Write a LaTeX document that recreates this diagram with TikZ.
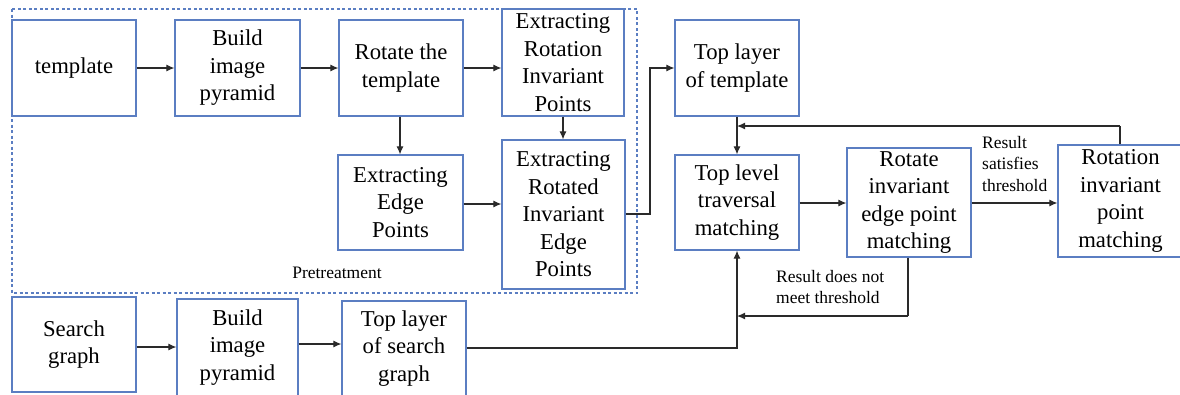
\documentclass[tikz,border=0pt]{standalone}
\usepackage{fontspec}
\setmainfont{Liberation Serif}
\usetikzlibrary{arrows.meta}
\definecolor{boxblue}{HTML}{5B7EC2}
\definecolor{linegray}{HTML}{2A2A2A}
\tikzset{
  blk/.style={draw=boxblue, line width=1.2pt, fill=white, align=center, inner sep=0pt,
    font=\fontsize{22.7}{27.5}\selectfont},
  arr/.style={draw=linegray, line width=1.1pt, -{Latex[length=8pt,width=7pt]}},
  ln/.style={draw=linegray, line width=1.1pt},
  lbl/.style={align=left, inner sep=0pt, font=\fontsize{17.5}{21.5}\selectfont},
}
\newcommand{\bx}[6]{\node[blk, minimum width=#4-#2, minimum height=#5-#3] (#1) at ({(#2+#4)/2},{(#3+#5)/2}) {#6};}
\begin{document}
\begin{tikzpicture}[x=1pt,y=-1pt]
\useasboundingbox (0,0) rectangle (1180,394);
% dashed pretreatment region
\draw[boxblue, line width=1.1pt, dash pattern=on 3pt off 2.5pt] (12,9) rectangle (637,293);
\node[lbl, anchor=center] (pre) at (337,273) {Pretreatment};
% boxes
\bx{tpl}{12}{20}{136}{116}{template}
\bx{bip}{175}{20}{300}{116}{Build\\image\\pyramid}
\bx{rot}{339}{20}{463}{116}{Rotate the\\template}
\bx{erip}{502}{9}{624}{116}{Extracting\\Rotation\\Invariant\\Points}
\bx{eep}{338}{155}{463}{250}{Extracting\\Edge\\Points}
\bx{erie}{502}{140}{625}{289}{Extracting\\Rotated\\Invariant\\Edge\\Points}
\bx{toptpl}{675}{20}{799}{116}{Top layer\\of template}
\bx{tlt}{675}{155}{799}{250}{Top level\\traversal\\matching}
\bx{riep}{847}{148}{971}{257}{Rotate\\invariant\\edge point\\matching}
\bx{ripm}{1058}{145}{1183}{257}{Rotation\\invariant\\point\\matching}
\bx{sg}{12}{297}{136}{392}{Search\\graph}
\bx{bip2}{177}{299}{298}{396}{Build\\image\\pyramid}
\bx{tls}{342}{301}{466}{396}{Top layer\\of search\\graph}
% coordinates
\coordinate (c1) at (650,214);
\coordinate (c2) at (650,68);
\coordinate (fb1) at (1120,126);
\coordinate (fb2) at (737,126);
\coordinate (nm1) at (908,316);
\coordinate (nm2) at (737,316);
\coordinate (s1) at (737,348);
% arrows
\draw[arr] (tpl.east |- 0,68) -- (bip.west |- 0,68);
\draw[arr] (bip.east |- 0,68) -- (rot.west |- 0,68);
\draw[arr] (rot.east |- 0,68) -- (erip.west |- 0,68);
\draw[arr] (rot.south -| 400,0) -- (eep.north -| 400,0);
\draw[arr] (erip.south -| 563,0) -- (erie.north -| 563,0);
\draw[arr] (eep.east |- 0,204) -- (erie.west |- 0,204);
\draw[arr] (erie.east |- c1) -- (c1) -- (c2) -- (toptpl.west |- c2);
\draw[arr] (toptpl.south -| 737,0) -- (tlt.north -| 737,0);
\draw[ln] (ripm.north -| fb1) -- (fb1);
\draw[arr] (fb1) -- (fb2);
\draw[arr] (tlt.east |- 0,203) -- (riep.west |- 0,203);
\draw[arr] (riep.east |- 0,203) -- (ripm.west |- 0,203);
\draw[ln] (riep.south -| nm1) -- (nm1);
\draw[arr] (nm1) -- (nm2);
\draw[arr] (sg.east |- 0,347) -- (bip2.west |- 0,347);
\draw[arr] (bip2.east |- 0,344) -- (tls.west |- 0,344);
\draw[arr] (tls.east |- s1) -- (s1) -- (tlt.south -| s1);
% labels
\node[lbl, anchor=north west] (sat) at (982,136) {Result\\satisfies\\threshold};
\node[lbl, anchor=north west] (nmt) at (776,270) {Result does not\\meet threshold};
\end{tikzpicture}
\end{document}
